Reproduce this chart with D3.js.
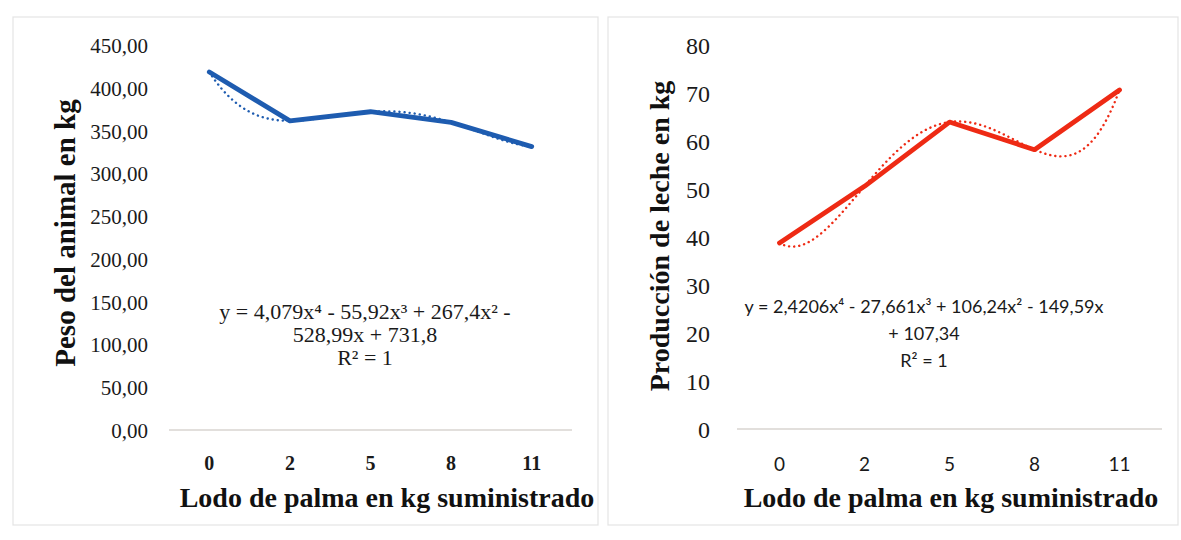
<!DOCTYPE html>
<html>
<head>
<meta charset="utf-8">
<script src="https://cdn.jsdelivr.net/npm/d3@7"></script>
<style>
  html, body { margin: 0; padding: 0; background: #ffffff; }
  svg { display: block; }
  .serif { font-family: "Liberation Serif", "Times New Roman", Times, "DejaVu Serif", serif; }
  .sans { font-family: Lato, "Open Sans", "Liberation Sans", sans-serif; }
</style>
</head>
<body>
<svg id="chart" width="1181" height="540"></svg>
<script>
// ---------- DATA ----------
const categories = ["0", "2", "5", "8", "11"];

const pesoValues = [418.37, 361.32, 371.99, 359.56, 331.25];
const pesoTicks = [0, 50, 100, 150, 200, 250, 300, 350, 400, 450];
const pesoTrendCoef = [731.8, -528.99, 267.4, -55.92, 4.079]; // c0..c4
const pesoEquation = ["y = 4,079x⁴ - 55,92x³ + 267,4x² -", "528,99x + 731,8", "R² = 1"];
const pesoYTitle = "Peso del animal en kg";

const lecheValues = [38.75, 50.56, 63.95, 58.19, 70.64];
const lecheTicks = [0, 10, 20, 30, 40, 50, 60, 70, 80];
const lecheTrendCoef = [107.34, -149.59, 106.24, -27.661, 2.4206];
const lecheEquation = ["y = 2,4206x⁴ - 27,661x³ + 106,24x² - 149,59x", "+ 107,34", "R² = 1"];
const lecheYTitle = "Producción de leche en kg";

const xTitle = "Lodo de palma en kg suministrado";

// ---------- DRAW ----------
const svg = d3.select("#chart");

// faint panel frames
svg.append("rect").attr("x", 13).attr("y", 17).attr("width", 585).attr("height", 508)
  .attr("fill", "none").attr("stroke", "#e4e4e4").attr("stroke-width", 1.2);
svg.append("rect").attr("x", 608).attr("y", 17).attr("width", 570).attr("height", 508)
  .attr("fill", "none").attr("stroke", "#e4e4e4").attr("stroke-width", 1.2);

function panel(cfg) {
  const g = svg.append("g");
  const x = d3.scaleBand().domain(categories).range(cfg.xRange);
  const cx = c => x(c) + x.bandwidth() / 2;
  const y = d3.scaleLinear().domain(cfg.yDomain).range(cfg.yRange);

  // x axis line
  g.append("line")
    .attr("x1", cfg.xRange[0]).attr("x2", cfg.xRange[1])
    .attr("y1", y(0)).attr("y2", y(0))
    .attr("stroke", "#d9d4d0").attr("stroke-width", 1.6);

  // y tick labels
  g.selectAll(".yt").data(cfg.yTicks).enter().append("text")
    .attr("class", "serif")
    .attr("x", cfg.yLabelX).attr("y", d => y(d) + cfg.yLabelDy)
    .attr("text-anchor", "end").attr("dominant-baseline", "central")
    .style("font-size", cfg.yTickSize + "px")
    .style("font-weight", cfg.yTickWeight)
    .attr("fill", "#1a1a1a")
    .text(cfg.yFormat);

  // x tick labels
  g.selectAll(".xt").data(categories).enter().append("text")
    .attr("class", cfg.xTickClass)
    .attr("x", d => cx(d)).attr("y", 463)
    .attr("text-anchor", "middle").attr("dominant-baseline", "central")
    .style("font-size", cfg.xTickSize + "px")
    .style("font-weight", cfg.xTickWeight)
    .attr("fill", "#1a1a1a")
    .text(d => d);

  // axis titles
  g.append("text")
    .attr("class", "serif")
    .attr("transform", `translate(${cfg.yTitleX},${cfg.yTitleY}) rotate(-90)`)
    .attr("text-anchor", "middle").attr("dominant-baseline", "central")
    .style("font-size", cfg.yTitleSize + "px").style("font-weight", "bold")
    .attr("fill", "#111")
    .text(cfg.yTitle);
  g.append("text")
    .attr("class", "serif")
    .attr("x", cfg.xTitleX).attr("y", 497)
    .attr("text-anchor", "middle").attr("dominant-baseline", "central")
    .style("font-size", "28px").style("font-weight", "bold")
    .attr("fill", "#111")
    .text(xTitle);

  // data line
  const line = d3.line().x((d, i) => cx(categories[i])).y(d => y(d));
  g.append("path").datum(cfg.values)
    .attr("d", line)
    .attr("fill", "none").attr("stroke", cfg.color)
    .attr("stroke-width", 4.8).attr("stroke-linejoin", "round").attr("stroke-linecap", "round");

  // polynomial trendline (x = category index 1..n, as in the spreadsheet)
  const xt = d3.scaleLinear().domain([1, categories.length])
    .range([cx(categories[0]), cx(categories[categories.length - 1])]);
  const poly = t => cfg.coef.reduce((s, c, k) => s + c * Math.pow(t, k), 0);
  const ts = d3.range(1, categories.length + 0.0001, 0.05);
  g.append("path").datum(ts)
    .attr("d", d3.line().x(t => xt(t)).y(t => y(poly(t))))
    .attr("fill", "none").attr("stroke", cfg.color)
    .attr("stroke-width", 2.4).attr("stroke-dasharray", "0.1,5").attr("stroke-linecap", "round");

  // equation label
  g.selectAll(".eq").data(cfg.equation).enter().append("text")
    .attr("class", cfg.eqClass)
    .attr("x", cfg.eqX).attr("y", (d, i) => cfg.eqY + i * cfg.eqLine)
    .attr("text-anchor", "middle").attr("dominant-baseline", "central")
    .style("font-size", cfg.eqSize + "px")
    .attr("fill", "#1a1a1a")
    .text(d => d);
}

panel({
  xRange: [169, 572], yDomain: [0, 450], yRange: [430, 45],
  yTicks: pesoTicks, yFormat: d => d3.format(".2f")(d).replace(".", ","),
  yLabelX: 148, yLabelDy: 1, yTickSize: 21, yTickWeight: "normal",
  xTickClass: "serif", xTickSize: 20, xTickWeight: "bold",
  yTitle: pesoYTitle, yTitleSize: 29, yTitleX: 65, yTitleY: 233, xTitleX: 387,
  values: pesoValues, color: "#1e5cb0", coef: pesoTrendCoef,
  equation: pesoEquation, eqX: 365, eqY: 311, eqLine: 23, eqClass: "serif", eqSize: 22
});

panel({
  xRange: [737, 1162], yDomain: [0, 80], yRange: [429, 45],
  yTicks: lecheTicks, yFormat: d => String(d),
  yLabelX: 710, yLabelDy: 1, yTickSize: 24, yTickWeight: "normal",
  xTickClass: "sans", xTickSize: 19, xTickWeight: "normal",
  yTitle: lecheYTitle, yTitleSize: 28, yTitleX: 659, yTitleY: 236, xTitleX: 951,
  values: lecheValues, color: "#ee2a14", coef: lecheTrendCoef,
  equation: lecheEquation, eqX: 924, eqY: 306, eqLine: 27, eqClass: "sans", eqSize: 18
});
</script>
</body>
</html>
